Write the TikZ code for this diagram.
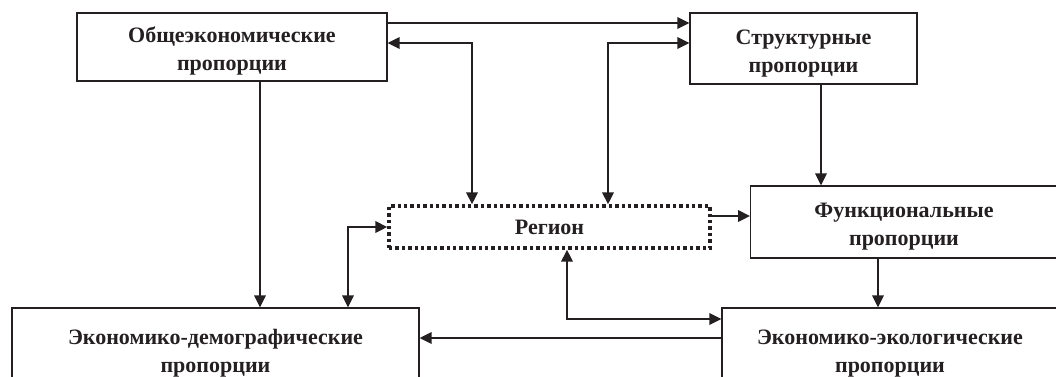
\documentclass[tikz,border=0pt]{standalone}
\usepackage{fontspec}
\setmainfont{Liberation Serif}
\usepackage{tikz}
\usetikzlibrary{arrows.meta,calc}
\definecolor{ink}{rgb}{0.14,0.12,0.13}
\tikzset{
  prop/.style={rectangle, draw=ink, line width=0.9pt, align=center, text=ink,
    font=\bfseries\fontsize{16.5}{21}\selectfont, inner sep=0pt,
    execute at begin node={\rule{0pt}{39pt}}},
  regbox/.style={rectangle, draw=ink, line width=2.5pt, dash pattern=on 2.6pt off 2.2pt,
    text=ink, font=\bfseries\fontsize{16.5}{21}\selectfont, inner sep=0pt},
  line/.style={draw=ink, line width=1.7pt, -{Triangle[length=9pt,width=8.5pt]}},
  dline/.style={draw=ink, line width=1.7pt, {Triangle[length=9pt,width=8.5pt]}-{Triangle[length=9pt,width=8.5pt]}},
}
\begin{document}
\begin{tikzpicture}[x=0.75pt,y=-0.75pt]
    \useasboundingbox (0,0) rectangle (1056,376);

    \node[prop, minimum width=232.5pt, minimum height=51pt] (obsh) at (232,47) {Общеэкономические\\пропорции};
    \node[prop, minimum width=170.25pt, minimum height=53.25pt] (strukt) at (803.5,48.5) {Структурные\\пропорции};
    \node[prop, minimum width=230pt, minimum height=54pt] (funk) at (904,222) {Функциональные\\пропорции};
    \node[regbox, minimum width=240.75pt, minimum height=31.5pt] (reg) at (549.5,227) {Регион};
    \node[prop, minimum width=305.25pt, minimum height=61.5pt] (demo) at (215.5,349) {Экономико-демографические\\пропорции};
    \node[prop, minimum width=252pt, minimum height=61.5pt] (ekol) at (890,349) {Экономико-экологические\\пропорции};

    \coordinate (c0) at (0,23);
    \coordinate (c1) at (472,43);
    \coordinate (c2) at (608,43);
    \coordinate (c3) at (260,0);
    \coordinate (c4) at (821,0);
    \coordinate (c5) at (0,216);
    \coordinate (c6) at (878,0);
    \coordinate (c7) at (567,319);
    \coordinate (c8) at (0,338);
    \coordinate (c9) at (348,227);

    \path[line] (obsh.east |- c0) -- (strukt.west |- c0);
    \path[dline] (obsh.east |- c1) -| (reg.north -| c1);
    \path[dline] (strukt.west |- c2) -| (reg.north -| c2);
    \path[line] (obsh.south -| c3) -- (demo.north -| c3);
    \path[line] (strukt.south -| c4) -- (funk.north -| c4);
    \path[line] (reg.east |- c5) -- (funk.west |- c5);
    \path[line] (funk.south -| c6) -- (ekol.north -| c6);
    \path[dline] (reg.south -| c7) |- (ekol.west |- c7);
    \path[line] (ekol.west |- c8) -- (demo.east |- c8);
    \path[dline] (demo.north -| c9) |- (reg.west |- c9);

\end{tikzpicture}
\end{document}
